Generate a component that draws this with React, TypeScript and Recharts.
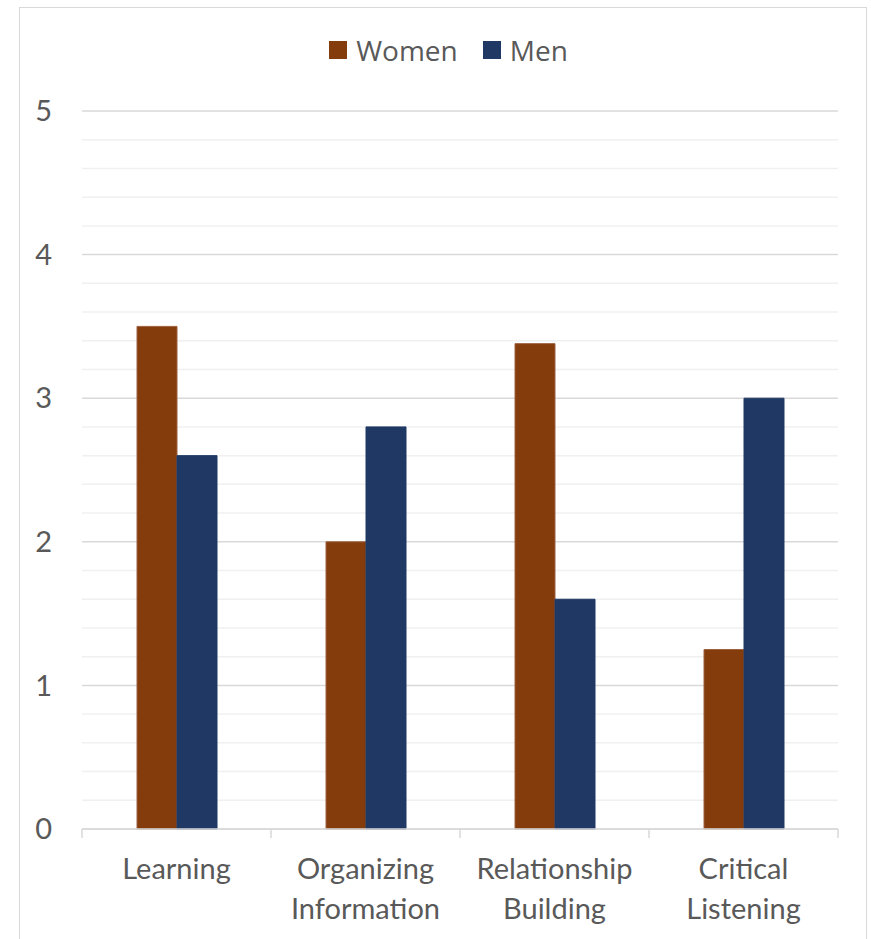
import React from 'react';
import {
  BarChart,
  Bar,
  XAxis,
  YAxis,
  CartesianGrid,
} from 'recharts';

const categories = [
  'Learning',
  'Organizing Information',
  'Relationship Building',
  'Critical Listening',
];
const women = [3.5, 2.0, 3.38, 1.25];
const men = [2.6, 2.8, 1.6, 3.0];
const majorTicks = [0, 1, 2, 3, 4, 5];
const minorTicks = [
  0.2, 0.4, 0.6, 0.8, 1.2, 1.4, 1.6, 1.8, 2.2, 2.4, 2.6, 2.8,
  3.2, 3.4, 3.6, 3.8, 4.2, 4.4, 4.6, 4.8,
];

const series = [
  { key: 'Women', color: '#843C0C', edge: '#9E6140' },
  { key: 'Men', color: '#1F3864', edge: '#1F3864' },
];

const data = categories.map((name, i) => ({
  name,
  Women: women[i],
  Men: men[i],
}));

const TEXT = '#595959';
const AXIS = '#D9D9D9';

// label split on spaces, plus small marks at the category boundaries
function CategoryTick(props: any) {
  const { x, y, payload, width, visibleTicksCount, index } = props;
  const lines = String(payload.value).split(' ');
  const band = width && visibleTicksCount ? width / visibleTicksCount : 0;
  const isLast = index === visibleTicksCount - 1;
  return (
    <g>
      {band > 0 && (
        <line
          x1={x - band / 2}
          x2={x - band / 2}
          y1={y}
          y2={y + 9}
          stroke={AXIS}
          strokeWidth={1.5}
        />
      )}
      {band > 0 && isLast && (
        <line
          x1={x + band / 2}
          x2={x + band / 2}
          y1={y}
          y2={y + 9}
          stroke={AXIS}
          strokeWidth={1.5}
        />
      )}
      <text
        x={x}
        y={y}
        textAnchor="middle"
        fill={TEXT}
        fontSize={29}
        fontFamily="Lato, sans-serif"
      >
        {lines.map((line, i) => (
          <tspan key={i} x={x} dy={i === 0 ? 50 : 40}>
            {line}
          </tspan>
        ))}
      </text>
    </g>
  );
}

function ChartLegend() {
  return (
    <div
      style={{
        position: 'absolute',
        top: 30,
        left: 13,
        width: 871,
        height: 40,
        display: 'flex',
        justifyContent: 'center',
        alignItems: 'center',
        gap: 25,
        fontFamily: '"Open Sans", sans-serif',
        fontSize: 28,
        color: TEXT,
      }}
    >
      {series.map((s) => (
        <div key={s.key} style={{ display: 'flex', alignItems: 'center' }}>
          <span
            style={{
              display: 'inline-block',
              width: 18,
              height: 18,
              background: s.color,
              marginRight: 9,
            }}
          />
          <span>{s.key}</span>
        </div>
      ))}
    </div>
  );
}

export default function App() {
  return (
    <div
      style={{
        position: 'absolute',
        left: 0,
        top: 0,
        width: 871,
        height: 939,
        overflow: 'hidden',
        background: '#fff',
      }}
    >
      <div
        style={{
          position: 'absolute',
          left: 19,
          top: 7,
          width: 846,
          height: 960,
          border: '1.5px solid #D9D9D9',
        }}
      />
      <ChartLegend />
      <div style={{ position: 'absolute', left: 0, top: 0 }}>
        <BarChart
          width={871}
          height={939}
          data={data}
          barGap={0}
          barSize={40}
          margin={{ top: 111, right: 33, left: 22, bottom: 10 }}
        >
          <YAxis
            domain={[0, 5]}
            ticks={majorTicks}
            type="number"
            width={60}
            axisLine={false}
            tickLine={false}
            tickSize={0}
            tickMargin={30}
            tick={{ fill: TEXT, fontSize: 29, fontFamily: 'Lato, sans-serif' }}
            interval={0}
          />
          <CartesianGrid
            vertical={false}
            horizontalValues={minorTicks}
            stroke="#F0F0F0"
            strokeWidth={1.5}
          />
          <CartesianGrid vertical={false} stroke={AXIS} strokeWidth={1.5} />
          <XAxis
            dataKey="name"
            height={100}
            axisLine={{ stroke: AXIS, strokeWidth: 1.5 }}
            tickLine={false}
            tickSize={0}
            tickMargin={0}
            interval={0}
            tick={<CategoryTick />}
          />
          {series.map((s) => (
            <Bar
              key={s.key}
              dataKey={s.key}
              fill={s.color}
              stroke={s.edge}
              strokeWidth={1}
              isAnimationActive={false}
            />
          ))}
        </BarChart>
      </div>
    </div>
  );
}
